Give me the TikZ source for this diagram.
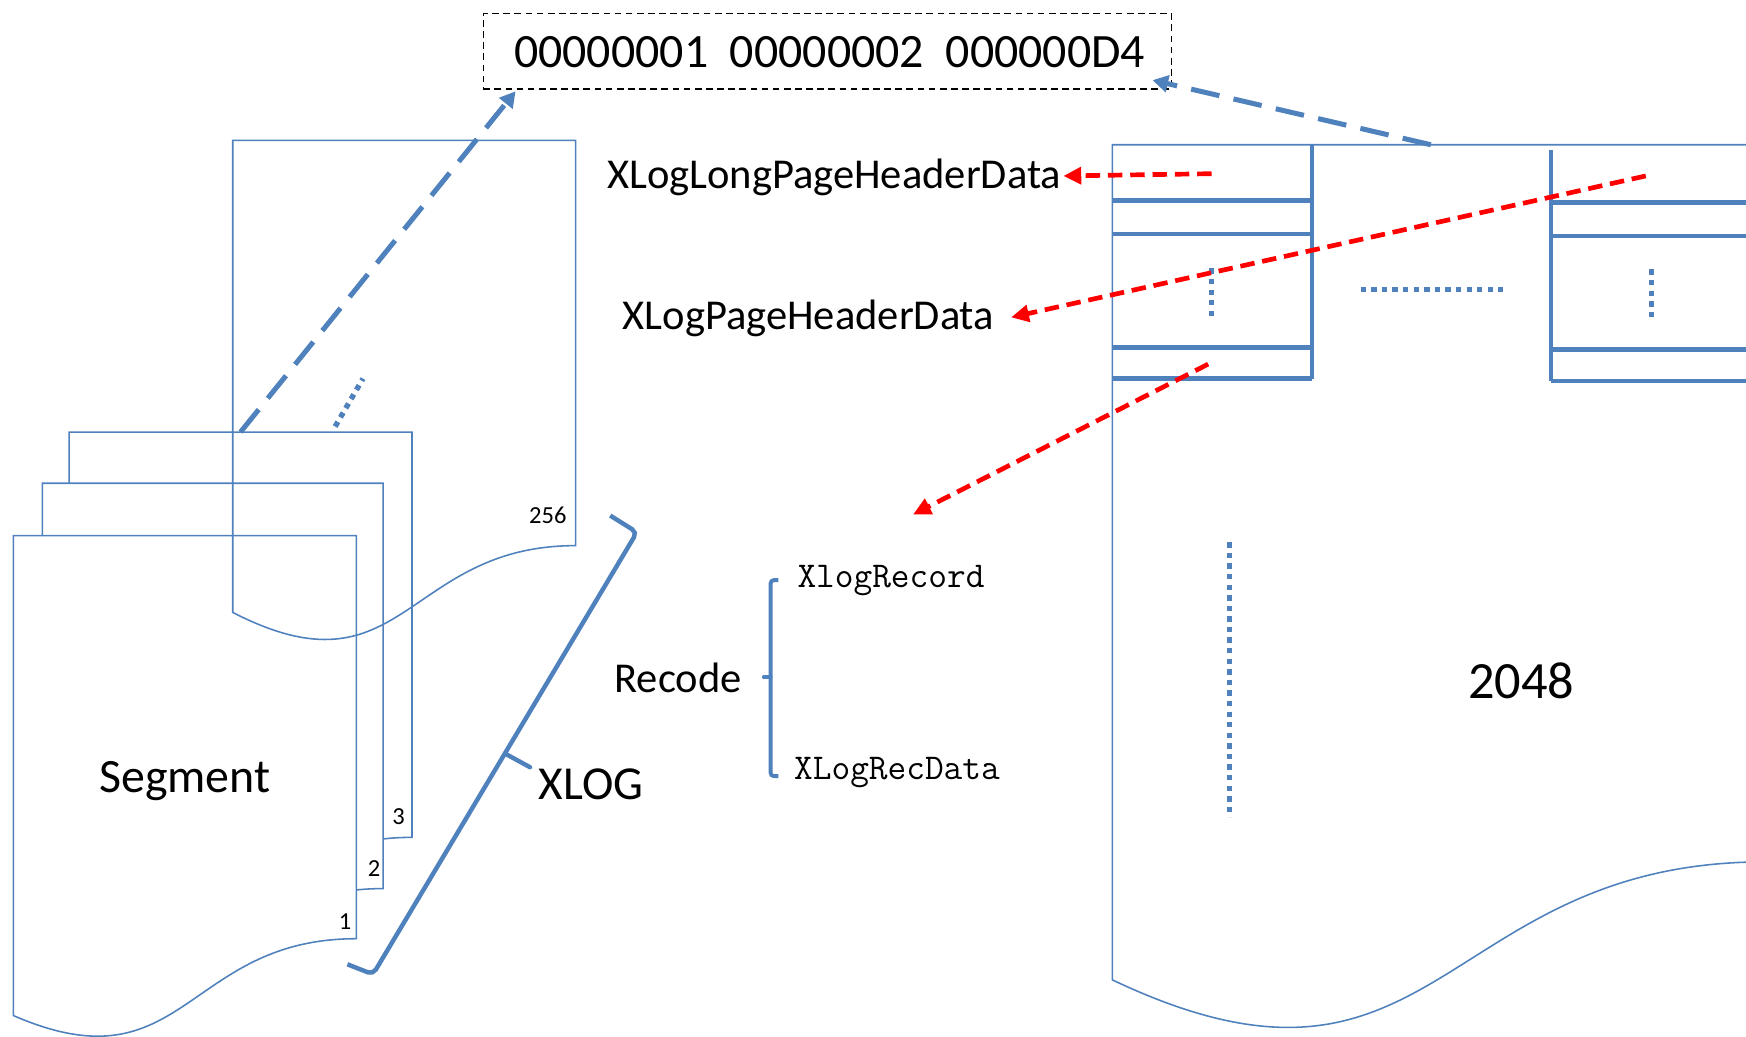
\documentclass[tikz,border=0pt]{standalone}
\usepackage{fontspec}
\setmainfont{Carlito}
\usetikzlibrary{arrows.meta}
\definecolor{obl}{RGB}{79,129,189}
\definecolor{ored}{RGB}{255,0,0}
\begin{document}
\begin{tikzpicture}[x=1pt,y=-1pt,
  thinblue/.style={draw=obl,line width=1.4pt},
  pagebox/.style={thinblue,fill=white},
  thickblue/.style={draw=obl,line width=4pt},
  bracestyle/.style={draw=obl,line width=4pt,rounded corners=5pt},
  bluedash/.style={draw=obl,line width=4.5pt,dash pattern=on 26pt off 13pt,-{Triangle[length=14pt,width=15pt]}},
  reddash/.style={draw=ored,line width=4.2pt,dash pattern=on 13pt off 7pt,-{Triangle[length=16pt,width=15pt]}},
  bluedot/.style={draw=obl,line width=4.8pt,dash pattern=on 4.8pt off 4.7pt},
  lbl/.style={inner sep=0pt,text=black},
  big/.style={lbl,font=\fontsize{38.2}{42}\selectfont},
  mono/.style={lbl,font=\fontsize{32.6}{35}\selectfont\ttfamily},
  pnum/.style={lbl,font=\fontsize{22}{24}\selectfont}
]
\useasboundingbox (0,0) rectangle (1568,931);
\fill[white] (0,0) rectangle (1568,931);

% top dashed box
\node[draw=black,line width=1.3pt,dash pattern=on 6pt off 4pt,minimum width=618pt,minimum height=68pt,inner sep=0pt] (idbox) at (743,46) {};
\node[lbl,font=\fontsize{43}{46}\selectfont,anchor=base] (idtxt) at (745,61) {00000001\ \ 00000002\ \ 000000D4};

% stacked segment pages
\path[pagebox] (62,388) -- (370,388) -- (370,752) .. controls (216,752) and (216,891) .. (62,812) -- cycle;
\path[pagebox] (38,434) -- (344,434) -- (344,798) .. controls (191,798) and (191,937) .. (38,858) -- cycle;
\path[pagebox] (12,481) -- (320,481) -- (320,843) .. controls (166,843) and (166,979) .. (12,912) -- cycle;
\path[thinblue] (209,126) -- (517,126) -- (517,490) .. controls (363,490) and (363,629) .. (209,550) -- cycle;

\node[lbl,font=\fontsize{43}{46}\selectfont,anchor=base] (seg) at (166,712) {Segment};
\node[pnum,anchor=base] (n256) at (492,470) {256};
\node[pnum,anchor=base] (n3) at (358,740) {3};
\node[pnum,anchor=base] (n2) at (336,787) {2};
\node[pnum,anchor=base] (n1) at (310,835) {1};

\draw[bluedot] (301,383) -- (326,340);

% XLOG brace
\coordinate (bt1) at (548,463);
\coordinate (bt2) at (572,478);
\coordinate (bmid) at (454,677);
\coordinate (btick) at (476,689);
\coordinate (bb1) at (335,875);
\coordinate (bb2) at (312,866);
\draw[bracestyle] (bt1) -- (bt2) -- (bb1) -- (bb2);
\draw[thickblue,line cap=round] (bmid) -- (btick);
\node[lbl,font=\fontsize{42.5}{46}\selectfont,anchor=base] (xlog) at (531,718) {XLOG};

% blue dashed arrows to id box
\coordinate (ba1s) at (216,388);
\coordinate (ba1e) at (463,82);
\draw[bluedash] (ba1s) -- (ba1e);
\coordinate (ba2s) at (1285,130);
\coordinate (ba2e) at (1035,72);
\draw[bluedash] (ba2s) -- (ba2e);

% big page
\path[thinblue] (999,130) -- (1585,130) -- (1585,774) .. controls (1292,774) and (1292,1019) .. (999,880) -- cycle;

% left header block
\draw[thickblue] (1178,130) -- (1178,340);
\foreach \yy in {180,210,312,340} \draw[thickblue] (999,\yy) -- (1178,\yy);
\draw[bluedot] (1088,241) -- (1088,287);
% right header block
\draw[thickblue] (1393,135) -- (1393,342);
\foreach \yy in {182,212,314,342} \draw[thickblue] (1393,\yy) -- (1570,\yy);
\draw[bluedot] (1483,242) -- (1483,288);
% dotted in between
\draw[bluedot] (1222,260) -- (1350,260);
% long vertical dotted
\draw[bluedot] (1104,487) -- (1104,734);

\node[lbl,font=\fontsize{47}{50}\selectfont,anchor=base] (n2048) at (1366,627) {2048};

% labels
\node[big,anchor=base west] (longhdr) at (545,169) {XLogLongPageHeaderData};
\node[big,anchor=base west] (pghdr) at (559,296) {XLogPageHeaderData};
\node[big,anchor=base] (recode) at (609,622) {Recode};
\node[mono,anchor=base west] (xrec) at (716,528) {XlogRecord};
\node[mono,anchor=base west] (xrecdata) at (713,700) {XLogRecData};

% Recode bracket
\draw[draw=obl,line width=3.5pt,rounded corners=3pt] (699,521) -- (692,521) -- (692,697) -- (699,697);
\draw[draw=obl,line width=3.5pt,line cap=round] (692,608) -- (686,608);

% red dashed arrows
\coordinate (r1s) at (1088,156);
\coordinate (r1e) at (955,158);
\draw[reddash] (r1s) -- (r1e);
\coordinate (r2s) at (1478,158);
\coordinate (r2e) at (908,285);
\draw[reddash] (r2s) -- (r2e);
\coordinate (r3s) at (1085,327);
\coordinate (r3e) at (820,462);
\draw[reddash] (r3s) -- (r3e);
\end{tikzpicture}
\end{document}
